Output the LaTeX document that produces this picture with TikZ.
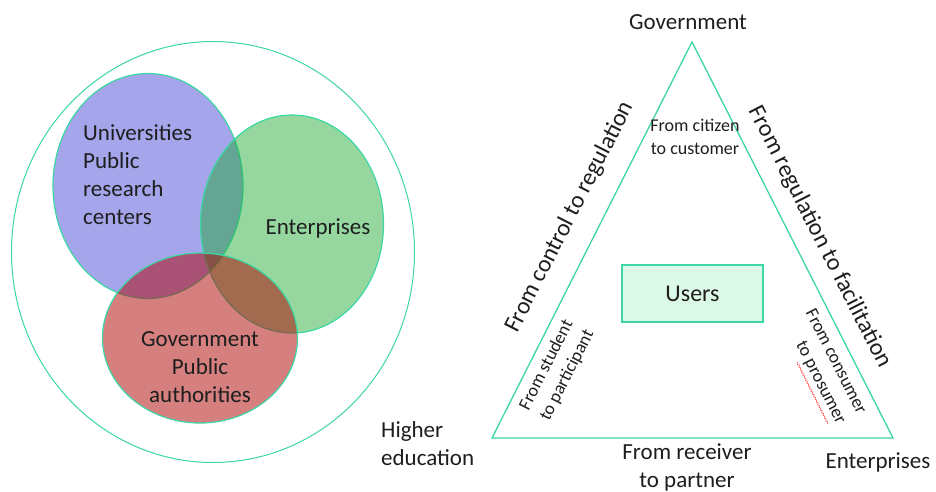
\documentclass[tikz,border=0pt]{standalone}
\usepackage{fontspec}
\setmainfont{Carlito}
\usetikzlibrary{shapes.geometric,decorations.pathmorphing}
\definecolor{edge}{RGB}{60,215,165}
\definecolor{vblue}{RGB}{165,165,235}
\definecolor{vgreen}{RGB}{22,167,44}
\definecolor{vred}{RGB}{175,0,0}
\definecolor{boxfill}{RGB}{220,248,230}
\definecolor{txt}{RGB}{30,30,30}
\begin{document}
\begin{tikzpicture}[x=1pt,y=-1pt,
  venn/.style={ellipse, draw=edge, line width=1.2pt, inner sep=0pt},
  big/.style={font=\fontsize{23}{28}\selectfont, text=txt, inner sep=0pt},
  mid/.style={font=\fontsize{24}{28}\selectfont, text=txt, inner sep=0pt},
  small/.style={font=\fontsize{18}{23}\selectfont, text=txt, inner sep=0pt},
  tri/.style={draw=edge, line width=1.3pt, line join=miter}]
\useasboundingbox[fill=white] (0,0) rectangle (936,491);
% Venn diagram
\node[venn, line width=1pt, minimum width=403pt, minimum height=421pt] (outer) at (213,252) {};
\node[venn, fill=vblue, minimum width=190pt, minimum height=225pt] (uni) at (148,186) {};
\node[venn, fill=vgreen, fill opacity=0.45, minimum width=183pt, minimum height=218pt] (ent) at (292,224) {};
\node[venn, fill=vred, fill opacity=0.5, minimum width=195pt, minimum height=170pt] (gov) at (200,338) {};
\node[big, align=left, anchor=west] (unit) at (83,175) {Universities\\Public\\research\\centers};
\node[big] (entt) at (318,228) {Enterprises};
\node[big, align=center] (govt) at (200,367) {Government\\Public\\authorities};
\node[big, align=left, anchor=west] (he) at (381,444) {Higher\\education};
% Triangle
\coordinate (tG) at (692,42);
\coordinate (tH) at (492,438);
\coordinate (tE) at (893,438);
\draw[tri] (tG) -- (tH) -- (tE) -- cycle;
\node[big] (govl) at (688,22) {Government};
\node[big] (entl) at (878,462) {Enterprises};
\node[big, align=center] (recv) at (687,467) {From receiver\\to partner};
\node[draw=edge, line width=1.2pt, fill=boxfill, minimum width=141pt, minimum height=57pt, mid] (users) at (692.5,293.5) {Users};
\node[mid, rotate=63] (ctrl) at (570,217) {From control to regulation};
\node[mid, rotate=-63] (facil) at (820,237) {From regulation to facilitation};
\node[small, align=center] (citz) at (695,137) {From citizen\\to customer};
\node[small, align=left, rotate=63] (stud) at (557,370) {From student\\to participant};
\node[small, align=right, rotate=-63] (cons) at (825,367) {From consumer\\to prosumer};
\draw[red!60!pink, line width=0.5pt, decorate, decoration={snake, amplitude=0.8pt, segment length=3pt}] (797,362) -- (828,424);
\end{tikzpicture}
\end{document}
